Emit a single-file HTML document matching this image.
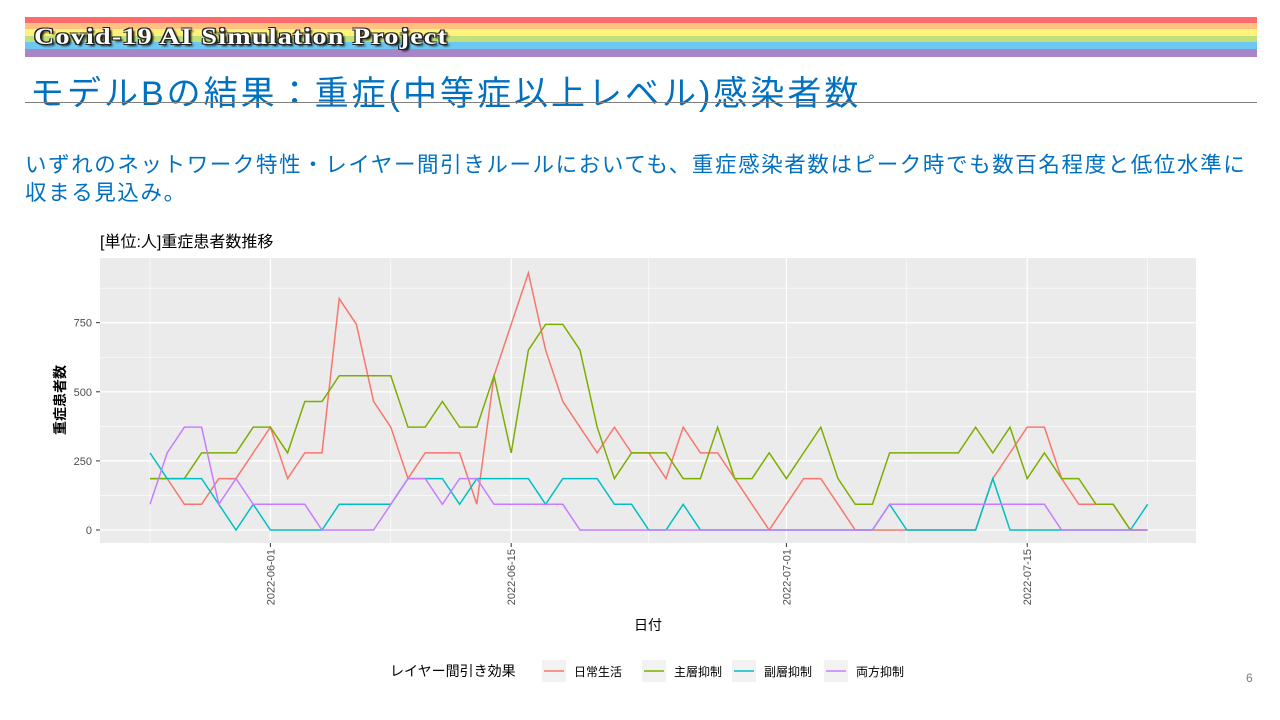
<!DOCTYPE html>
<html><head><meta charset="utf-8"><style>
body{margin:0;width:1280px;height:720px;background:#fff;overflow:hidden;position:relative;font-family:"Liberation Sans","Noto Sans CJK JP",sans-serif}
.abs{position:absolute}
</style></head><body>
<div class="abs" style="left:25px;top:17px;width:1232px;height:40px;background:linear-gradient(#ff6b6b 0,#ff6b6b 6px,#ffc080 6px,#ffc080 12px,#fff27a 12px,#fff27a 19px,#bfe07a 19px,#bfe07a 25px,#6cc8f0 25px,#6cc8f0 32px,#a884c8 32px)"></div>
<div class="abs" style="left:34px;top:24px;font-family:'Liberation Serif',serif;font-weight:bold;font-size:23px;color:#fff;letter-spacing:1px;transform:scaleX(1.22);transform-origin:0 0;text-shadow:-1px -1px 0 #222,1px -1px 0 #222,-1px 1px 0 #222,1px 1px 0 #222,2px 2px 2px #000;white-space:nowrap">Covid-19 AI Simulation Project</div>
<div class="abs" style="left:30px;top:66px;font-size:34px;letter-spacing:3px;color:#0070c0;white-space:nowrap">モデルBの結果：重症(中等症以上レベル)感染者数</div>
<div class="abs" style="left:25px;top:102px;width:1232px;height:1px;background:#7f7f7f"></div>
<div class="abs" style="left:25px;top:151px;width:1240px;font-size:21.5px;letter-spacing:1.6px;line-height:28px;color:#0070c0">いずれのネットワーク特性・レイヤー間引きルールにおいても、重症感染者数はピーク時でも数百名程度と低位水準に収まる見込み。</div>
<div class="abs" style="left:1246px;top:671px;font-size:12px;color:#7f7f7f">6</div>
<svg class="abs" style="left:0;top:0" width="1280" height="720" id="chart"></svg>
<script>
const dates0 = "2022-05-25";
const yTicks = [0,250,500,750];
const xTickLabels = ["2022-06-01","2022-06-15","2022-07-01","2022-07-15"];
const xTickIdx = [7,21,37,51];
const seriesNames = ["日常生活","主層抑制","副層抑制","両方抑制"];
const colors = ["#f8766d","#7cae00","#00bfc4","#c77cff"];
const sDaily = [2,2,1,1,2,2,3,4,2,3,3,9,8,5,4, 2,3,3,3,1,6,8,10,7,5,4,3,4,3,3, 2,4,3,3,2,1,0,1,2,2,1,0,0,0, 0,0,0,0,0,2,3,4,4,2,1,1,1,0,0].map(v=>v*93);
const sMain = [2,2,2,3,3,3,4,4,3,5,5,6,6,6,6, 4,4,5,4,4,6,3,7,8,8,7,4,2,3,3, 3,2,2,4,2,2,3,2,3,4,2,1,1,3, 3,3,3,3,4,3,4,2,3,2,2,1,1,0,0].map(v=>v*93);
const sSub = [3,2,2,2,1,0,1,0,0,0,0,1,1,1,1, 2,2,2,1,2,2,2,2,1,2,2,2,1,1,0, 0,1,0,0,0,0,0,0,0,0,0,0,0,1, 0,0,0,0,0,2,0,0,0,0,0,0,0,0,1].map(v=>v*93);
const sBoth = [1,3,4,4,1,2,1,1,1,1,0,0,0,0,1, 2,2,1,2,2,1,1,1,1,1,0,0,0,0,0, 0,0,0,0,0,0,0,0,0,0,0,0,0,1, 1,1,1,1,1,1,1,1,1,0,0,0,0,0,0].map(v=>v*93);
const series=[sDaily,sMain,sSub,sBoth];
const P={l:100,r:1196,t:258,b:543};
const x=i=>150+i*17.2;
const y=v=>530-v*0.2764;
const svg=document.getElementById('chart');
const NS='http://www.w3.org/2000/svg';
function mk(t,a){const e=document.createElementNS(NS,t);for(const k in a)e.setAttribute(k,a[k]);svg.appendChild(e);return e;}
let e=mk('rect',{x:P.l,y:P.t,width:P.r-P.l,height:P.b-P.t,fill:'#ebebeb'});


[125,375,625,875].forEach(v=>{const g=mk('line',{x1:P.l,x2:P.r,y1:y(v),y2:y(v),stroke:'#fff','stroke-width':0.6});});
[0,14,29,44,58].forEach(i=>{const g=mk('line',{x1:x(i),x2:x(i),y1:P.t,y2:P.b,stroke:'#fff','stroke-width':0.6});});
yTicks.forEach(v=>{const g=mk('line',{x1:P.l,x2:P.r,y1:y(v),y2:y(v),stroke:'#fff','stroke-width':1.3});
const t=mk('text',{x:92,y:y(v)+4,'text-anchor':'end','font-size':11,fill:'#4d4d4d'});t.textContent=v;
mk('line',{x1:96,x2:100,y1:y(v),y2:y(v),stroke:'#333'});});
xTickIdx.forEach((i,k)=>{const g=mk('line',{x1:x(i),x2:x(i),y1:P.t,y2:P.b,stroke:'#fff','stroke-width':1.3});
mk('line',{x1:x(i),x2:x(i),y1:P.b,y2:P.b+4,stroke:'#333'});
const t=mk('text',{x:0,y:0,'text-anchor':'end','font-size':11,fill:'#4d4d4d',transform:`translate(${x(i)+4},${P.b+6}) rotate(-90)`});t.textContent=xTickLabels[k];});
series.forEach((s,k)=>{const p=mk('polyline',{points:s.map((v,i)=>x(i)+','+y(v)).join(' '),fill:'none',stroke:colors[k],'stroke-width':1.5});});
let t=mk('text',{x:100,y:247,'font-size':16,fill:'#000'});t.textContent='[単位:人]重症患者数推移';
t=mk('text',{x:648,y:630,'text-anchor':'middle','font-size':14,fill:'#000'});t.textContent='日付';
t=mk('text',{x:0,y:0,'text-anchor':'middle','font-size':14,'font-weight':'bold',fill:'#000',transform:'translate(65,400) rotate(-90)'});t.textContent='重症患者数';
t=mk('text',{x:390,y:676,'font-size':14,fill:'#000'});t.textContent='レイヤー間引き効果';
const lx=[542,642,732,824];
seriesNames.forEach((n,k)=>{const r=mk('rect',{x:lx[k],y:660,width:24,height:22,fill:'#f2f2f2'});
mk('line',{x1:lx[k]+2,x2:lx[k]+22,y1:671,y2:671,stroke:colors[k],'stroke-width':1.5});
const tt=mk('text',{x:lx[k]+32,y:676,'font-size':12,fill:'#000'});tt.textContent=n;});
</script>
</body></html>
